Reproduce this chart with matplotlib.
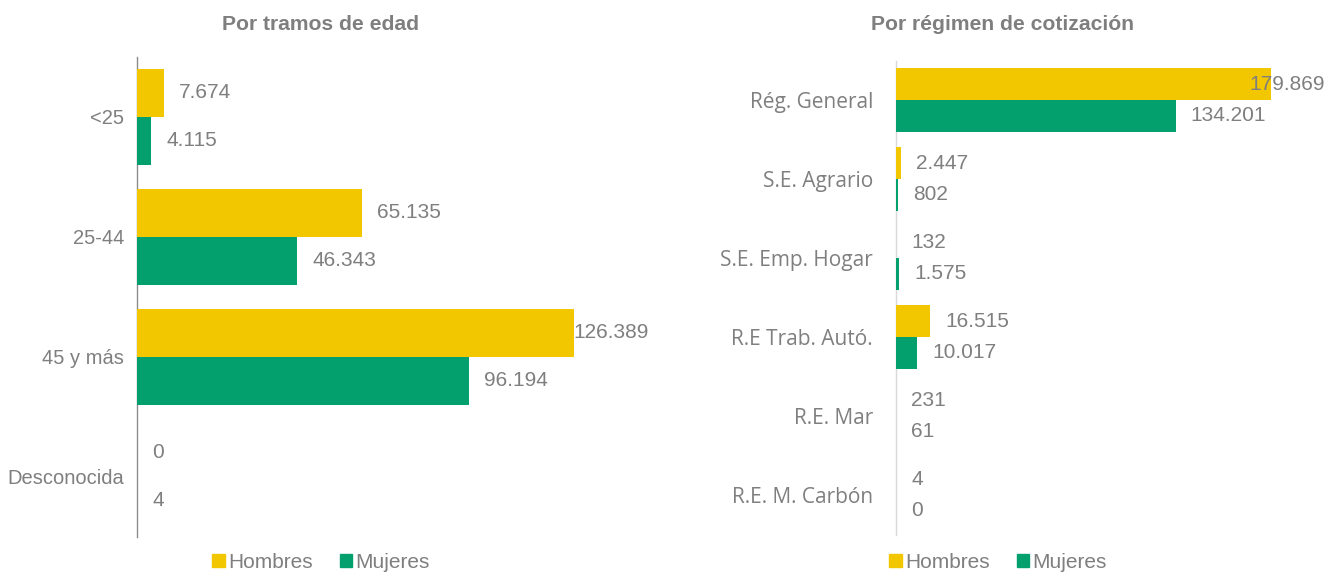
import matplotlib
matplotlib.use("Agg")
import matplotlib.pyplot as plt
from matplotlib.patches import Patch

# ---- data ----
age_categories = ["<25", "25-44", "45 y más", "Desconocida"]
age_hombres = [7674, 65135, 126389, 0]
age_mujeres = [4115, 46343, 96194, 4]

reg_categories = ["Rég. General", "S.E. Agrario", "S.E. Emp. Hogar",
                  "R.E Trab. Autó.", "R.E. Mar", "R.E. M. Carbón"]
reg_hombres = [179869, 2447, 132, 16515, 231, 4]
reg_mujeres = [134201, 802, 1575, 10017, 61, 0]

series_names = ["Hombres", "Mujeres"]
titles = ["Por tramos de edad", "Por régimen de cotización"]

# ---- style ----
YELLOW = "#F2C700"
GREEN = "#03A06E"
GRAY = "#7F7F7F"
W, H = 1337, 573
ARIAL = "Liberation Sans"

fig = plt.figure(figsize=(W / 100, H / 100), dpi=100)


def fmt(v):
    return f"{v:,}".replace(",", ".")


def px_axes(x0, x1, top, bottom):
    return fig.add_axes([x0 / W, (H - bottom) / H, (x1 - x0) / W, (bottom - top) / H])


def draw_panel(ax, cats, hom, muj, xmax, ylab_font, ylab_size, ylab_pad, spine_color):
    n = len(cats)
    ys = list(range(n))
    bh = 0.4
    ax.barh([y - bh / 2 for y in ys], hom, height=bh, color=YELLOW, linewidth=0)
    ax.barh([y + bh / 2 for y in ys], muj, height=bh, color=GREEN, linewidth=0)
    ax.set_xlim(0, xmax)
    ax.set_ylim(n - 0.5, -0.5)
    ax.set_yticks(ys)
    ax.set_yticklabels(cats, fontfamily=ylab_font, fontsize=ylab_size, color=GRAY)
    ax.tick_params(axis="y", length=0, pad=ylab_pad)
    ax.set_xticks([])
    for s in ["top", "right", "bottom"]:
        ax.spines[s].set_visible(False)
    ax.spines["left"].set_color(spine_color)
    ax.spines["left"].set_linewidth(1.0)
    ax.spines["left"].set_zorder(0.5)

    fig.canvas.draw()
    r = fig.canvas.get_renderer()
    bbox = ax.get_window_extent(r)
    ppu = bbox.width / xmax  # pixels per unit
    offset = 15 / ppu
    for vals, dy in ((hom, -bh / 2), (muj, bh / 2)):
        for y, v in zip(ys, vals):
            t = ax.text(v + offset, y + dy, fmt(v), fontfamily=ARIAL, fontsize=15,
                        color=GRAY, va="center", ha="left")
            ext = t.get_window_extent(r)
            if ext.x1 > bbox.x1:
                t.set_x(v + offset - (ext.x1 - bbox.x1) / ppu)


axL = px_axes(137, 649, 57, 537)
draw_panel(axL, age_categories, age_hombres, age_mujeres, 148190, ARIAL, 14.5, 9.4, "#8C8C8C")

axR = px_axes(896, 1325, 60.5, 534.5)
draw_panel(axR, reg_categories, reg_hombres, reg_mujeres, 205750, "Open Sans", 15, 16.5, "#D9D9D9")

# titles
fig.text(321 / W, 1 - 24 / H, titles[0], ha="center", va="center", fontfamily=ARIAL,
         fontsize=15.2, fontweight="bold", color=GRAY)
fig.text(1002 / W, 1 - 24 / H, titles[1], ha="center", va="center", fontfamily=ARIAL,
         fontsize=15.2, fontweight="bold", color=GRAY)

# legends
handles = [Patch(color=YELLOW), Patch(color=GREEN)]
for cx in (321, 998):
    fig.legend(handles, series_names, loc="center", bbox_to_anchor=(cx / W, 1 - 562 / H),
               ncol=2, frameon=False, handlelength=0.6, handleheight=0.6,
               handletextpad=0.15, columnspacing=1.3, borderaxespad=0,
               prop={"family": ARIAL, "size": 15}, labelcolor=GRAY)

fig.savefig("out.png", dpi=100)
